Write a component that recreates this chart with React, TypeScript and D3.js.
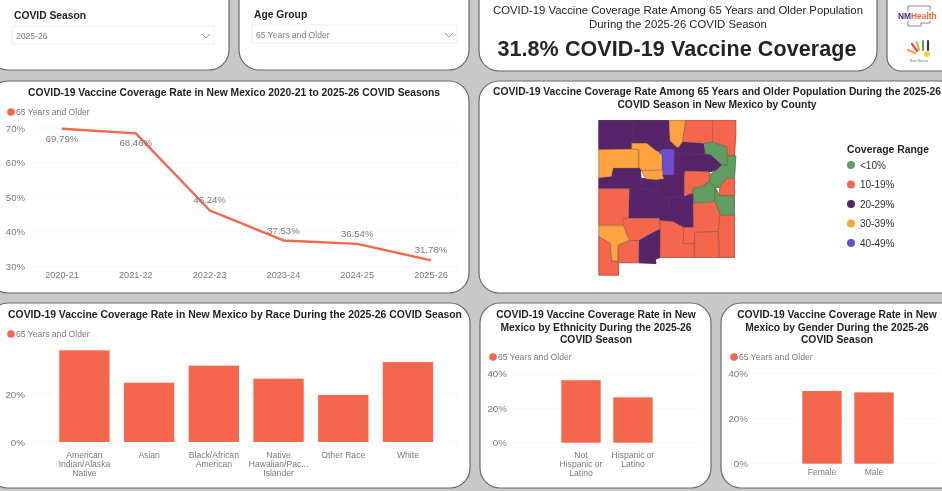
import React from "react";
import * as d3 from "d3";

const seasons = ["2020-21", "2021-22", "2022-23", "2023-24", "2024-25", "2025-26"];
const seasonValues = [69.79, 68.46, 46.24, 37.53, 36.54, 31.78];
const lineTicks = [30, 40, 50, 60, 70];

const races = ["American Indian/Alaska Native", "Asian", "Black/African American", "Native Hawaiian/Pac... Islander", "Other Race", "White"];
const raceLabels = [["American", "Indian/Alaska", "Native"], ["Asian"], ["Black/African", "American"], ["Native", "Hawaiian/Pac...", "Islander"], ["Other Race"], ["White"]];
const raceValues = [38.2, 24.7, 31.8, 26.4, 19.6, 33.3];

const ethnicities = ["Not Hispanic or Latino", "Hispanic or Latino"];
const ethnicityLabels = [["Not", "Hispanic or", "Latino"], ["Hispanic or", "Latino"]];
const ethnicityValues = [36.2, 26.3];

const genders = ["Female", "Male"];
const genderValues = [32.3, 31.7];

const rangeNames = ["<10%", "10-19%", "20-29%", "30-39%", "40-49%"];
const rangeColors = ["#5f9e5f", "#f4674c", "#57246a", "#fda33f", "#6b4fce"];

// County outlines, in an arbitrary map-space grid, with coverage-range index.
const counties: [number, number[][]][] = [
  [2, [[27,32],[135,32],[125,100],[125,116],[27,119]]],
  [2, [[135,32],[237,32],[240,92],[258,113],[275,95],[340,100],[345,130],[255,130],[250,118],[220,118],[205,125],[195,120],[170,100],[125,100]]],
  [3, [[237,32],[287,32],[278,95],[265,113],[240,92]]],
  [1, [[287,32],[368,32],[368,97],[340,100],[278,95]]],
  [1, [[368,32],[437,32],[437,72],[433,136],[412,136],[410,110],[368,97]]],
  [0, [[345,100],[368,97],[410,110],[412,166],[395,165],[362,135],[345,130]]],
  [3, [[27,119],[145,118],[145,175],[70,175],[65,200],[27,204]]],
  [3, [[125,100],[170,100],[195,120],[205,125],[216,135],[216,180],[160,182],[147,175],[147,120],[125,116]]],
  [3, [[155,182],[220,180],[222,207],[170,210]]],
  [4, [[205,125],[220,118],[252,118],[252,195],[218,195],[218,135]]],
  [2, [[255,130],[362,135],[395,165],[380,180],[358,185],[285,183],[282,195],[252,195]]],
  [2, [[27,205],[65,200],[70,175],[150,175],[155,235],[27,235]]],
  [2, [[155,205],[205,212],[205,240],[155,235]]],
  [2, [[205,210],[222,207],[218,195],[282,195],[282,260],[205,260]]],
  [1, [[285,183],[358,185],[358,212],[335,230],[310,235],[305,252],[283,252]]],
  [0, [[412,138],[437,138],[433,205],[410,205],[390,232],[375,232],[360,215],[360,195],[380,180],[395,165],[412,166]]],
  [1, [[390,232],[410,205],[433,205],[433,257],[388,257]]],
  [0, [[310,235],[335,230],[358,215],[375,232],[375,282],[312,280]]],
  [0, [[375,232],[388,257],[433,257],[433,315],[392,316],[375,272]]],
  [1, [[27,237],[118,237],[115,325],[98,345],[27,345]]],
  [2, [[120,237],[205,240],[205,262],[238,262],[236,295],[205,325],[118,325]]],
  [2, [[238,262],[282,260],[308,252],[310,352],[280,352],[250,335],[208,330],[208,312],[238,295]]],
  [1, [[312,280],[375,275],[390,315],[385,365],[315,367],[312,402],[280,400],[280,352],[310,352]]],
  [1, [[390,317],[433,315],[433,442],[388,442],[388,405],[385,365]]],
  [1, [[315,367],[383,365],[387,442],[313,442]]],
  [1, [[212,332],[250,335],[280,352],[280,400],[312,402],[312,442],[210,442]]],
  [1, [[98,325],[208,325],[208,358],[170,378],[147,392],[118,392],[100,345]]],
  [2, [[147,392],[170,378],[208,360],[208,442],[195,448],[197,460],[147,458]]],
  [3, [[27,348],[100,348],[118,392],[85,405],[82,452],[65,452],[60,400],[27,380]]],
  [1, [[27,380],[60,400],[65,455],[85,455],[85,495],[27,495]]],
  [1, [[85,405],[118,392],[147,392],[145,458],[85,458]]],
];

const FONT = "'Liberation Sans', Arial, sans-serif";
const ORANGE = "#f4674c";
const GRAY = "#7c7c7c";

const Panel = ({ x, y, w, h, r = 20 }: any) => (
  <rect x={x} y={y} width={w} height={h} rx={r} ry={r} fill="#fff" stroke="#6a6a6a" strokeWidth={1.2} />
);

const Title = ({ x, y, lines, size = 10.3 }: any) => (
  <g>
    {lines.map((l: string, i: number) => (
      <text key={i} x={x} y={y + i * 12.6} textAnchor="middle" fontFamily={FONT} fontWeight={700} fontSize={size} fill="#252423">{l}</text>
    ))}
  </g>
);

const Legend = ({ x, y }: any) => (
  <g>
    <circle cx={x} cy={y} r={3.8} fill={ORANGE} />
    <text x={x + 5} y={y + 3} fontFamily={FONT} fontSize={8.6} fill={GRAY}>65 Years and Older</text>
  </g>
);

const Slicer = ({ title, value, tx, ty, bx, by, bw }: any) => (
  <g>
    <text x={tx} y={ty} fontFamily={FONT} fontWeight={700} fontSize={10.3} fill="#252423">{title}</text>
    <rect x={bx} y={by} width={bw} height={18} fill="#fff" stroke="#eeeeee" />
    <text x={bx + 4} y={by + 13} fontFamily={FONT} fontSize={8.6} fill={GRAY}>{value}</text>
    <path d={`M${bx + bw - 12},${by + 8} l4,4 l4,-4`} fill="none" stroke="#888" strokeWidth={0.8} />
  </g>
);

const BarChart = ({ cats, labels, values, range, base, top, maxV, ticks, gridL, gridR, tickX, labelY, padding }: any) => {
  const xs = d3.scaleBand<string>().domain(cats).range(range).padding(padding);
  const ys = d3.scaleLinear().domain([0, maxV]).range([base, top]);
  return (
    <g>
      {ticks.map((t: number) => (
        <g key={t}>
          <line x1={gridL} x2={gridR} y1={ys(t)} y2={ys(t)} stroke="#e2e2e2" strokeWidth={1} strokeDasharray="1 3" />
          <text x={tickX} y={ys(t) + 3.6} textAnchor="end" fontFamily={FONT} fontSize={9.8} fill={GRAY}>{t}%</text>
        </g>
      ))}
      {cats.map((c: string, i: number) => (
        <rect key={c} x={xs(c)} y={ys(values[i])} width={xs.bandwidth()} height={base - ys(values[i])} fill={ORANGE} />
      ))}
      {cats.map((c: string, i: number) => (
        <g key={c}>
          {labels[i].map((l: string, j: number) => (
            <text key={j} x={xs(c)! + xs.bandwidth() / 2} y={labelY + j * 9} textAnchor="middle" fontFamily={FONT} fontSize={8.6} fill={GRAY}>{l}</text>
          ))}
        </g>
      ))}
    </g>
  );
};

export default function App() {
  const lx = d3.scalePoint<string>().domain(seasons).range([62, 431]);
  const ly = d3.scaleLinear().domain([30, 70]).range([266.5, 128]);
  const line = d3.line<number>().x((_, i) => lx(seasons[i])!).y((v) => ly(v));
  const labelDy = [10, 9.5, -10, -9, -10, -10];

  const mx = d3.scaleLinear().domain([0, 480]).range([590, 750]);
  const my = d3.scaleLinear().domain([0, 525]).range([110, 285]);
  const poly = d3.line<number[]>().x((p) => mx(p[0])).y((p) => my(p[1])).curve(d3.curveLinearClosed);
  const legendYs = d3.scalePoint<string>().domain(rangeNames).range([165, 243]);

  return (
    <svg width={942} height={491} viewBox="0 0 942 491" style={{ position: "absolute", left: 0, top: 0, filter: "blur(0.35px)" }}>
      <rect width={942} height={491} fill="#c8c8c8" />

      <Panel x={-12} y={-20} w={241} h={90} />
      <Panel x={239} y={-20} w={230} h={90} />
      <Panel x={479} y={-20} w={398} h={91} />
      <Panel x={887} y={-20} w={80} h={91} r={14} />
      <Panel x={-12} y={81} w={481} h={212} />
      <Panel x={479} y={81} w={480} h={212} />
      <Panel x={-12} y={303} w={482} h={185} />
      <Panel x={480} y={303} w={231} h={185} />
      <Panel x={721} y={303} w={240} h={185} />

      <Slicer title="COVID Season" value="2025-26" tx={14} ty={19} bx={12} by={26} bw={202} />
      <Slicer title="Age Group" value="65 Years and Older" tx={254} ty={18} bx={252} by={25} bw={205} />

      <text x={678} y={14} textAnchor="middle" fontFamily={FONT} fontSize={11.35} fill="#252423">COVID-19 Vaccine Coverage Rate Among 65 Years and Older Population</text>
      <text x={678} y={28} textAnchor="middle" fontFamily={FONT} fontSize={11.35} fill="#252423">During the 2025-26 COVID Season</text>
      <text x={677} y={56} textAnchor="middle" fontFamily={FONT} fontWeight={700} fontSize={21.5} fill="#252423" letterSpacing={0.1}>31.8% COVID-19 Vaccine Coverage</text>

      {/* logos */}
      <path d="M908,6 H930 V23 H921 V26 H908 Z" fill="none" stroke="#7d5b96" strokeWidth={0.8} />
      <rect x={897} y={11} width={42} height={10} fill="#fff" />
      <text x={898} y={19} fontFamily={FONT} fontWeight={700} fontSize={8.4}><tspan fill="#4b2a72">NM</tspan><tspan fill="#e8653a">Health</tspan></text>
      <g strokeLinecap="round" strokeWidth={2.2}>
        <line x1={915} y1={53} x2={908} y2={50} stroke="#f2a33a" />
        <line x1={917} y1={51} x2={912} y2={44} stroke="#e0503a" />
        <line x1={919} y1={50} x2={917} y2={42} stroke="#d9b43c" />
        <line x1={923} y1={50} x2={923} y2={41} stroke="#5aa35a" />
        <line x1={928} y1={50} x2={928} y2={41} stroke="#4b2a72" />
      </g>
      <circle cx={927} cy={54} r={3} fill="#f6d432" />
      <text x={919} y={62} textAnchor="middle" fontFamily={FONT} fontSize={3.4} fill="#5a8f5a">New Mexico</text>

      {/* line chart */}
      <Title x={234} y={96} lines={["COVID-19 Vaccine Coverage Rate in New Mexico 2020-21 to 2025-26 COVID Seasons"]} />
      <Legend x={11} y={112} />
      {lineTicks.map((t) => (
        <g key={t}>
          <line x1={32} x2={460} y1={ly(t)} y2={ly(t)} stroke="#e2e2e2" strokeDasharray="1 3" />
          <text x={25} y={ly(t) + 3.5} textAnchor="end" fontFamily={FONT} fontSize={9.6} fill={GRAY}>{t}%</text>
        </g>
      ))}
      <path d={line(seasonValues)!} fill="none" stroke={ORANGE} strokeWidth={2.4} strokeLinejoin="round" />
      {seasons.map((s, i) => (
        <g key={s}>
          <text x={lx(s)} y={ly(seasonValues[i]) + labelDy[i]} dy={3} textAnchor="middle" fontFamily={FONT} fontSize={9.6} fill={GRAY}>{seasonValues[i].toFixed(2)}%</text>
          <text x={lx(s)} y={278} textAnchor="middle" fontFamily={FONT} fontSize={9.2} fill={GRAY}>{s}</text>
        </g>
      ))}

      {/* map */}
      <Title x={717} y={95} lines={["COVID-19 Vaccine Coverage Rate Among 65 Years and Older Population During the 2025-26", "COVID Season in New Mexico by County"]} size={10.3} />
      {counties.map(([r, pts], i) => (
        <path key={"u" + i} d={poly(pts)!} fill={rangeColors[r]} stroke={rangeColors[r]} strokeWidth={1.4} strokeLinejoin="round" />
      ))}
      {counties.map(([r, pts], i) => (
        <path key={i} d={poly(pts)!} fill={rangeColors[r]} stroke="#5b4a55" strokeOpacity={0.5} strokeWidth={0.6} />
      ))}
      <text x={847} y={153} fontFamily={FONT} fontWeight={700} fontSize={10.4} fill="#252423">Coverage Range</text>
      {rangeNames.map((n, i) => (
        <g key={n}>
          <circle cx={851} cy={legendYs(n)} r={4} fill={rangeColors[i]} />
          <text x={860} y={legendYs(n)! + 3.6} fontFamily={FONT} fontSize={10} fill="#333">{n}</text>
        </g>
      ))}

      {/* race */}
      <Title x={235} y={318} lines={["COVID-19 Vaccine Coverage Rate in New Mexico by Race During the 2025-26 COVID Season"]} size={10.4} />
      <Legend x={11} y={334} />
      <BarChart cats={races} labels={raceLabels} values={raceValues} range={[44.9, 447.5]} base={442} top={394} maxV={20} ticks={[0, 20]} gridL={32} gridR={460} tickX={25} labelY={458} padding={0.222} />

      {/* ethnicity */}
      <Title x={596} y={318} lines={["COVID-19 Vaccine Coverage Rate in New", "Mexico by Ethnicity During the 2025-26", "COVID Season"]} />
      <Legend x={493} y={357} />
      <BarChart cats={ethnicities} labels={ethnicityLabels} values={ethnicityValues} range={[548.7, 665.3]} base={442.7} top={373.7} maxV={40} ticks={[0, 20, 40]} gridL={514} gridR={702} tickX={507} labelY={458} padding={0.242} />

      {/* gender */}
      <Title x={837} y={318} lines={["COVID-19 Vaccine Coverage Rate in New", "Mexico by Gender During the 2025-26", "COVID Season"]} />
      <Legend x={734} y={357} />
      <BarChart cats={genders} labels={genders.map((g) => [g])} values={genderValues} range={[789.7, 906.3]} base={463.7} top={373.7} maxV={40} ticks={[0, 20, 40]} gridL={755} gridR={942} tickX={748} labelY={475} padding={0.242} />
    </svg>
  );
}
